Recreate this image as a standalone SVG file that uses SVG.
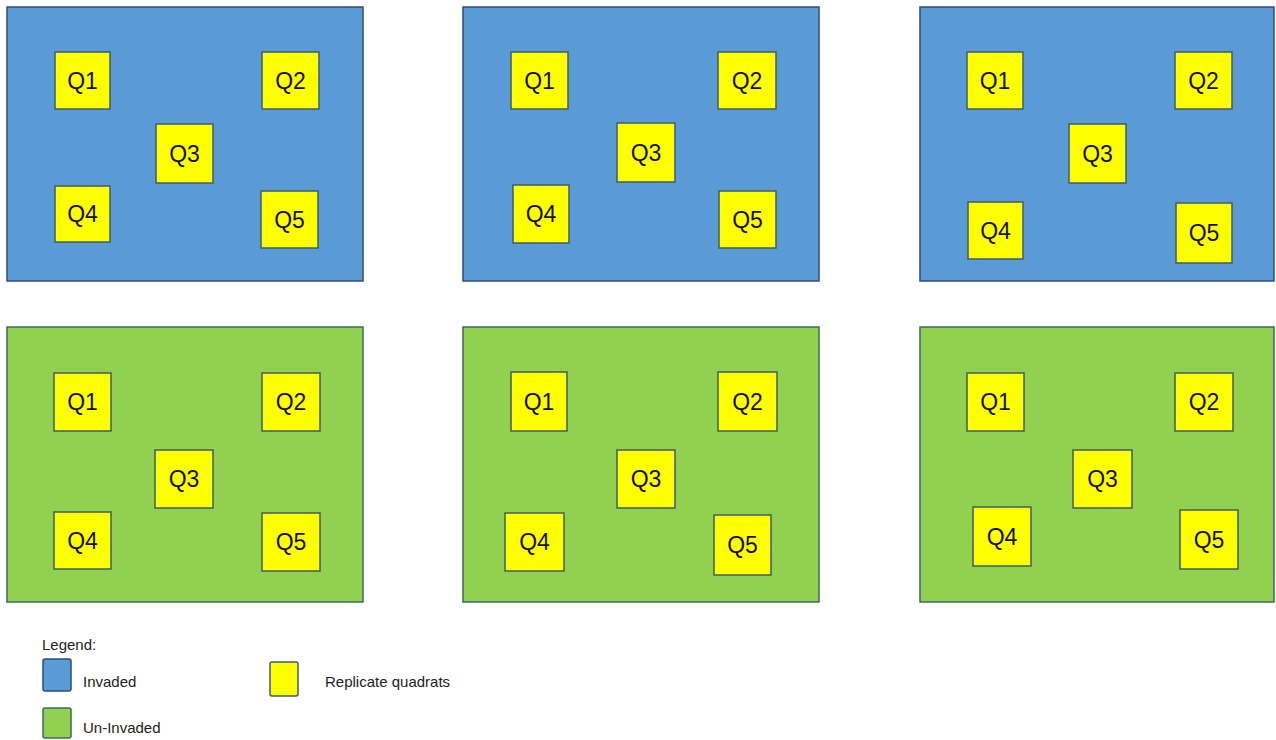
<svg xmlns="http://www.w3.org/2000/svg" width="1276" height="740" viewBox="0 0 1276 740">
<style>
.inv{fill:#5B9BD5;stroke:#2E4E73;stroke-width:1.5}
.uninv{fill:#92D050;stroke:#3B6A5E;stroke-width:1.5}
.q{fill:#FFFF00;stroke:#3E5C6E;stroke-width:1.5}
.ql{font-family:"Liberation Sans",Arial,sans-serif;font-size:23px;fill:#111;text-anchor:middle}
.lg{font-family:"Liberation Sans",Arial,sans-serif;font-size:15px;fill:#222}
</style>
<rect width="1276" height="740" fill="#fff"/>
<g id="panel-inv-1">
<rect class="inv" x="7" y="7" width="356" height="274"/>
<g id="p1q1"><rect class="q" x="55" y="52" width="55" height="57"/><text class="ql" x="82.5" y="88.5">Q1</text></g>
<g id="p1q2"><rect class="q" x="262" y="52" width="57" height="57"/><text class="ql" x="290.5" y="88.5">Q2</text></g>
<g id="p1q3"><rect class="q" x="156" y="124" width="57" height="59"/><text class="ql" x="184.5" y="161.5">Q3</text></g>
<g id="p1q4"><rect class="q" x="55" y="186" width="55" height="56"/><text class="ql" x="82.5" y="222">Q4</text></g>
<g id="p1q5"><rect class="q" x="261" y="191" width="57" height="57"/><text class="ql" x="289.5" y="227.5">Q5</text></g>
</g>
<g id="panel-inv-2">
<rect class="inv" x="463" y="7" width="356" height="274"/>
<g id="p2q1"><rect class="q" x="511" y="52" width="57" height="57"/><text class="ql" x="539.5" y="88.5">Q1</text></g>
<g id="p2q2"><rect class="q" x="718" y="52" width="58" height="57"/><text class="ql" x="747" y="88.5">Q2</text></g>
<g id="p2q3"><rect class="q" x="617" y="123" width="58" height="59"/><text class="ql" x="646" y="160.5">Q3</text></g>
<g id="p2q4"><rect class="q" x="513" y="185" width="56" height="58"/><text class="ql" x="541" y="222">Q4</text></g>
<g id="p2q5"><rect class="q" x="719" y="191" width="57" height="57"/><text class="ql" x="747.5" y="227.5">Q5</text></g>
</g>
<g id="panel-inv-3">
<rect class="inv" x="920" y="7" width="354" height="274"/>
<g id="p3q1"><rect class="q" x="967" y="52" width="56" height="57"/><text class="ql" x="995" y="88.5">Q1</text></g>
<g id="p3q2"><rect class="q" x="1175" y="52" width="57" height="57"/><text class="ql" x="1203.5" y="88.5">Q2</text></g>
<g id="p3q3"><rect class="q" x="1069" y="124" width="57" height="59"/><text class="ql" x="1097.5" y="161.5">Q3</text></g>
<g id="p3q4"><rect class="q" x="968" y="202" width="55" height="57"/><text class="ql" x="995.5" y="238.5">Q4</text></g>
<g id="p3q5"><rect class="q" x="1176" y="203" width="56" height="60"/><text class="ql" x="1204" y="241">Q5</text></g>
</g>
<g id="panel-uninv-1">
<rect class="uninv" x="7" y="327" width="356" height="275"/>
<g id="p4q1"><rect class="q" x="54" y="373" width="57" height="58"/><text class="ql" x="82.5" y="410">Q1</text></g>
<g id="p4q2"><rect class="q" x="262" y="373" width="58" height="58"/><text class="ql" x="291" y="410">Q2</text></g>
<g id="p4q3"><rect class="q" x="155" y="450" width="58" height="58"/><text class="ql" x="184" y="487">Q3</text></g>
<g id="p4q4"><rect class="q" x="54" y="512" width="57" height="57"/><text class="ql" x="82.5" y="548.5">Q4</text></g>
<g id="p4q5"><rect class="q" x="262" y="513" width="58" height="58"/><text class="ql" x="291" y="550">Q5</text></g>
</g>
<g id="panel-uninv-2">
<rect class="uninv" x="463" y="327" width="356" height="275"/>
<g id="p5q1"><rect class="q" x="511" y="372" width="56" height="59"/><text class="ql" x="539" y="409.5">Q1</text></g>
<g id="p5q2"><rect class="q" x="718" y="372" width="59" height="59"/><text class="ql" x="747.5" y="409.5">Q2</text></g>
<g id="p5q3"><rect class="q" x="617" y="450" width="58" height="58"/><text class="ql" x="646" y="487">Q3</text></g>
<g id="p5q4"><rect class="q" x="505" y="513" width="59" height="58"/><text class="ql" x="534.5" y="550">Q4</text></g>
<g id="p5q5"><rect class="q" x="714" y="515" width="57" height="60"/><text class="ql" x="742.5" y="553">Q5</text></g>
</g>
<g id="panel-uninv-3">
<rect class="uninv" x="920" y="327" width="354" height="275"/>
<g id="p6q1"><rect class="q" x="967" y="373" width="57" height="58"/><text class="ql" x="995.5" y="410">Q1</text></g>
<g id="p6q2"><rect class="q" x="1175" y="373" width="58" height="58"/><text class="ql" x="1204" y="410">Q2</text></g>
<g id="p6q3"><rect class="q" x="1073" y="450" width="59" height="58"/><text class="ql" x="1102.5" y="487">Q3</text></g>
<g id="p6q4"><rect class="q" x="973" y="507" width="58" height="59"/><text class="ql" x="1002" y="544.5">Q4</text></g>
<g id="p6q5"><rect class="q" x="1180" y="510" width="58" height="59"/><text class="ql" x="1209" y="547.5">Q5</text></g>
</g>
<g id="legend">
<text class="lg" x="42" y="650">Legend:</text>
<rect class="inv" x="43" y="659" width="28" height="32" rx="2"/>
<text class="lg" x="83" y="687">Invaded</text>
<rect class="uninv" x="43" y="708" width="28" height="30" rx="2"/>
<text class="lg" x="83" y="733">Un-Invaded</text>
<rect class="q" x="270" y="662" width="28" height="34" rx="2"/>
<text class="lg" x="325" y="687">Replicate quadrats</text>
</g>
</svg>
